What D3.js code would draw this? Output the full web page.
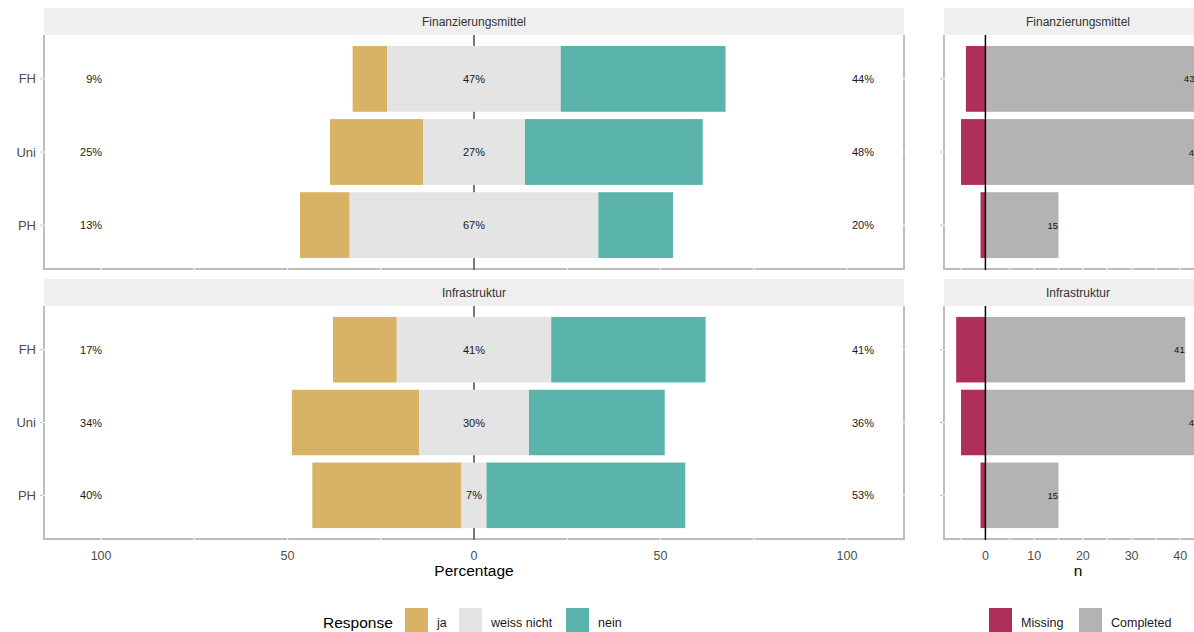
<!DOCTYPE html>
<html>
<head>
<meta charset="utf-8">
<script src="https://cdn.jsdelivr.net/npm/d3@7"></script>
<style>
  body { margin: 0; background: #fff; }
  svg { display: block; font-family: "Liberation Sans", Arial, sans-serif; }
</style>
</head>
<body>
<div id="chart"></div>
<script>
// data
var facets = ["Finanzierungsmittel", "Infrastruktur"];
var items = ["FH", "Uni", "PH"];
var responses = ["ja", "weiss nicht", "nein"];
var ja = [[9.3, 25.0, 13.3], [17.1, 34.1, 40.0]];
var weissNicht = [[46.5, 27.3, 66.7], [41.4, 29.5, 6.7]];
var nein = [[44.2, 47.7, 20.0], [41.4, 36.4, 53.3]];
var completed = [[43, 44, 15], [41, 44, 15]];
var missing = [[4, 5, 1], [6, 5, 1]];
var pctTicks = [-100, -50, 0, 50, 100];
var pctMinor = [-75, -25, 25, 75];
var nTicks = [0, 10, 20, 30, 40];
var nMinor = [-5, 5, 15, 25, 35, 45];

var colours = ["#d8b365", "#e4e4e4", "#5ab4ac"];
var histColours = ["#b02e5c", "#b3b3b3"];

var width = 1194, height = 632;

var svg = d3.select("#chart").append("svg")
  .attr("width", width)
  .attr("height", height);

var x = d3.scaleLinear().domain([-115.3, 115.3]).range([44, 904]);
var xn = d3.scaleLinear().domain([-8.5, 46.5]).range([944, 1212]);

var panels = [{top: 35, bottom: 269, strip: 8}, {top: 306, bottom: 539, strip: 279}];
var border = "#bdbdbd";

function drawFrame(g, xs, p, title) {
  var left = xs.range()[0], right = xs.range()[1];
  g.append("rect")
    .attr("x", left).attr("y", p.strip)
    .attr("width", right - left).attr("height", p.top - p.strip)
    .attr("fill", "#efefef");
  g.append("text")
    .attr("x", (left + right) / 2).attr("y", p.strip + 18)
    .attr("text-anchor", "middle")
    .attr("font-size", 12).attr("fill", "#333")
    .text(title);
  // panel border
  g.append("path")
    .attr("d", "M" + left + "," + p.top + "V" + p.bottom + "H" + right + "V" + p.top)
    .attr("fill", "none").attr("stroke", border).attr("stroke-width", 2);
}

facets.forEach(function(facet, fi) {
  var p = panels[fi];
  var y = d3.scaleBand().domain(items).range([p.top, p.bottom]).paddingInner(0.1).paddingOuter(0.15);
  var g = svg.append("g");

  // ---- likert panel ----
  drawFrame(g, x, p, facet);

  // white grid lines crossing the border
  g.selectAll(".vgrid").data(pctTicks.concat(pctMinor)).enter().append("line")
    .attr("x1", function(d) { return x(d); }).attr("x2", function(d) { return x(d); })
    .attr("y1", p.top).attr("y2", p.bottom + 1.5)
    .attr("stroke", "#fff").attr("stroke-width", 1);
  g.selectAll(".hgrid").data(items).enter().append("line")
    .attr("x1", x.range()[0] - 1.5).attr("x2", x.range()[1] + 1.5)
    .attr("y1", function(d) { return y(d) + y.bandwidth() / 2; })
    .attr("y2", function(d) { return y(d) + y.bandwidth() / 2; })
    .attr("stroke", "#fff").attr("stroke-width", 1);

  // y ticks and labels
  items.forEach(function(it) {
    var cy = y(it) + y.bandwidth() / 2;
    g.append("line").attr("x1", 40).attr("x2", 43).attr("y1", cy).attr("y2", cy)
      .attr("stroke", border);
    g.append("text").attr("x", 36).attr("y", cy + 4.5)
      .attr("text-anchor", "end").attr("font-size", 13).attr("fill", "#4d4d4d")
      .text(it);
  });

  // centre line (behind bars)
  g.append("line")
    .attr("x1", x(0)).attr("x2", x(0))
    .attr("y1", p.top).attr("y2", p.bottom + 1)
    .attr("stroke", "#555").attr("stroke-width", 1.6);

  items.forEach(function(it, i) {
    var a = ja[fi][i], w = weissNicht[fi][i], n = nein[fi][i];
    var segs = [[-(a + w / 2), -w / 2], [-w / 2, w / 2], [w / 2, w / 2 + n]];
    segs.forEach(function(s, k) {
      g.append("rect")
        .attr("x", x(s[0])).attr("y", y(it))
        .attr("width", x(s[1]) - x(s[0])).attr("height", y.bandwidth())
        .attr("fill", colours[k]);
    });
    var cy = y(it) + y.bandwidth() / 2 + 4;
    g.append("text").attr("x", x(-100) + 1).attr("y", cy)
      .attr("text-anchor", "end").attr("font-size", 11).attr("fill", "#1a1a1a")
      .text(Math.round(a) + "%");
    g.append("text").attr("x", x(0)).attr("y", cy)
      .attr("text-anchor", "middle").attr("font-size", 11).attr("fill", "#1a1a1a")
      .text(Math.round(w) + "%");
    g.append("text").attr("x", x(100) + 5).attr("y", cy)
      .attr("text-anchor", "start").attr("font-size", 11).attr("fill", "#1a1a1a")
      .text(Math.round(n) + "%");
  });

  // ---- histogram panel ----
  var h = svg.append("g");
  drawFrame(h, xn, p, facet);
  h.selectAll(".vgrid").data(nTicks.concat(nMinor)).enter().append("line")
    .attr("x1", function(d) { return xn(d); }).attr("x2", function(d) { return xn(d); })
    .attr("y1", p.top).attr("y2", p.bottom + 1.5)
    .attr("stroke", "#fff").attr("stroke-width", 1);
  h.selectAll(".hgrid").data(items).enter().append("line")
    .attr("x1", xn.range()[0] - 1.5).attr("x2", xn.range()[1] + 1.5)
    .attr("y1", function(d) { return y(d) + y.bandwidth() / 2; })
    .attr("y2", function(d) { return y(d) + y.bandwidth() / 2; })
    .attr("stroke", "#fff").attr("stroke-width", 1);
  items.forEach(function(it, i) {
    var cy = y(it) + y.bandwidth() / 2;
    h.append("line").attr("x1", 940).attr("x2", 943).attr("y1", cy).attr("y2", cy)
      .attr("stroke", border);
    h.append("rect")
      .attr("x", xn(-missing[fi][i])).attr("y", y(it))
      .attr("width", xn(0) - xn(-missing[fi][i])).attr("height", y.bandwidth())
      .attr("fill", histColours[0]);
    h.append("rect")
      .attr("x", xn(0)).attr("y", y(it))
      .attr("width", xn(completed[fi][i]) - xn(0)).attr("height", y.bandwidth())
      .attr("fill", histColours[1]);
    h.append("text")
      .attr("x", xn(completed[fi][i]) - 0.5).attr("y", cy + 3.5)
      .attr("text-anchor", "end").attr("font-size", 9.5).attr("fill", "#111")
      .text(completed[fi][i]);
  });
  h.append("line")
    .attr("x1", xn(0)).attr("x2", xn(0))
    .attr("y1", p.top).attr("y2", p.bottom + 1)
    .attr("stroke", "#000").attr("stroke-width", 1.5);
});

// x axes (bottom panel only)
var axisY = 560;
svg.selectAll(".pctLab").data(pctTicks).enter().append("text")
  .attr("x", function(d) { return x(d); }).attr("y", axisY)
  .attr("text-anchor", "middle").attr("font-size", 12.5).attr("fill", "#4d4d4d")
  .text(function(d) { return Math.abs(d); });
svg.append("text").attr("x", x(0)).attr("y", 576)
  .attr("text-anchor", "middle").attr("font-size", 15.5).attr("fill", "#000")
  .text("Percentage");

svg.selectAll(".nLab").data(nTicks).enter().append("text")
  .attr("x", function(d) { return xn(d); }).attr("y", axisY)
  .attr("text-anchor", "middle").attr("font-size", 12.5).attr("fill", "#4d4d4d")
  .text(function(d) { return d; });
svg.append("text").attr("x", (xn.range()[0] + xn.range()[1]) / 2).attr("y", 576)
  .attr("text-anchor", "middle").attr("font-size", 15.5).attr("fill", "#000")
  .text("n");

// legends
var legY = 608, keyW = 23, keyH = 26;
svg.append("text").attr("x", 323).attr("y", 628)
  .attr("font-size", 15.5).attr("fill", "#000").text("Response");
var legX = [405, 459, 566];
responses.forEach(function(r, k) {
  svg.append("rect").attr("x", legX[k]).attr("y", legY)
    .attr("width", keyW).attr("height", keyH).attr("fill", colours[k]);
  svg.append("text").attr("x", legX[k] + keyW + 9).attr("y", 627)
    .attr("font-size", 12.5).attr("fill", "#1a1a1a").text(r);
});
var histLabels = ["Missing", "Completed"];
var histX = [989, 1079];
histLabels.forEach(function(r, k) {
  svg.append("rect").attr("x", histX[k]).attr("y", legY)
    .attr("width", keyW).attr("height", keyH).attr("fill", histColours[k]);
  svg.append("text").attr("x", histX[k] + keyW + 9).attr("y", 627)
    .attr("font-size", 12.5).attr("fill", "#1a1a1a").text(r);
});
</script>
</body>
</html>
